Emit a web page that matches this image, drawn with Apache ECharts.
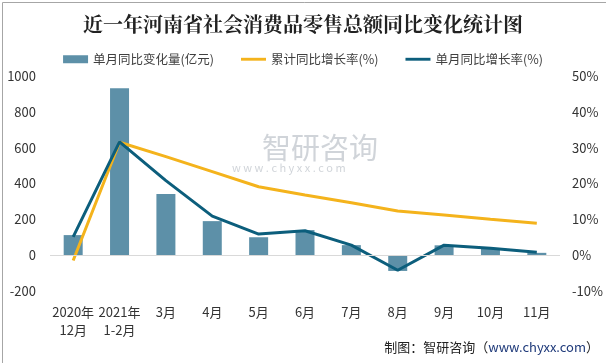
<!DOCTYPE html>
<html><head><meta charset="utf-8">
<script src="https://cdn.jsdelivr.net/npm/echarts@6/dist/echarts.min.js"></script>
<style>html,body{margin:0;padding:0;background:#fff}#c{width:606px;height:363px}</style>
</head><body><div id="c"></div>
<script>
const categories = ['2020年\n12月','2021年\n1-2月','3月','4月','5月','6月','7月','8月','9月','10月','11月'];
const monthlyChange = [112, 931, 341, 190, 100, 140, 56, -88, 55, 39, 13];
const cumulativeRate = [-1.5, 31.5, 27.5, 23.3, 19.1, 16.8, 14.6, 12.3, 11.2, 10.0, 8.9];
const monthlyRate = [5.1, 31.6, 20.8, 10.9, 5.9, 6.8, 2.8, -4.2, 2.8, 1.9, 0.8];
const leftTicks = {min: -200, max: 1000, interval: 200};
const rightTicks = {min: -10, max: 50, interval: 10};
const seriesNames = ['单月同比变化量(亿元)', '累计同比增长率(%)', '单月同比增长率(%)'];

const FONT = '"Noto Sans CJK SC", "Microsoft YaHei", sans-serif';
const LINE_ICON = 'path://M0,0L26,0L26,3L0,3Z';
const chart = echarts.init(document.getElementById('c'), null, {renderer: 'canvas'});
chart.setOption({
  animation: false,
  backgroundColor: '#fff',
  textStyle: {fontFamily: FONT},
  title: {
    text: '近一年河南省社会消费品零售总额同比变化统计图',
    left: 'center', top: 9,
    textStyle: {fontFamily: '"Noto Serif CJK SC","Noto Sans CJK SC", serif', fontWeight: 'bold', fontSize: 20, color: '#222'}
  },
  legend: {
    top: 48, left: 'center',
    itemWidth: 25, itemHeight: 8, itemGap: 27,
    textStyle: {fontSize: 12.5, color: '#404040', fontFamily: FONT},
    data: [
      {name: seriesNames[0], icon: 'rect'},
      {name: seriesNames[1], icon: LINE_ICON},
      {name: seriesNames[2], icon: LINE_ICON}
    ]
  },
  grid: {left: 50, right: 46, top: 76, bottom: 72, containLabel: false},
  xAxis: {
    type: 'category', data: categories,
    axisLine: {show: false, onZero: false}, axisTick: {show: false},
    axisLabel: {fontSize: 13, color: '#333', margin: 12, lineHeight: 18, interval: 0, fontFamily: FONT}
  },
  yAxis: [
    {type: 'value', min: leftTicks.min, max: leftTicks.max, interval: leftTicks.interval,
     splitLine: {show: false}, axisLine: {show: false}, axisTick: {show: false},
     axisLabel: {fontSize: 13, color: '#333', margin: 14, fontFamily: FONT, formatter: v => String(v)}},
    {type: 'value', min: rightTicks.min, max: rightTicks.max, interval: rightTicks.interval,
     splitLine: {show: false}, axisLine: {show: false}, axisTick: {show: false},
     axisLabel: {fontSize: 13, color: '#333', margin: 12, formatter: '{value}%', fontFamily: FONT}}
  ],
  series: [
    {name: seriesNames[0], type: 'bar', data: monthlyChange, barWidth: 19,
     itemStyle: {color: '#5D90A8'},
     markLine: {silent: true, symbol: 'none', label: {show: false},
       lineStyle: {color: '#d9d9d9', width: 1, type: 'solid'}, data: [{yAxis: 0}]}},
    {name: seriesNames[1], type: 'line', yAxisIndex: 1, data: cumulativeRate,
     symbol: 'none', lineStyle: {color: '#F4B31C', width: 3}, itemStyle: {color: '#F4B31C'}},
    {name: seriesNames[2], type: 'line', yAxisIndex: 1, data: monthlyRate,
     symbol: 'none', lineStyle: {color: '#0C5E7C', width: 3}, itemStyle: {color: '#0C5E7C'}}
  ],
  graphic: [
    {type: 'rect', left: 0, top: 0, z: 100, silent: true,
     shape: {x: 0.5, y: 0.5, width: 605, height: 362},
     style: {fill: 'none', stroke: '#a6a6a6', lineWidth: 1}},
    {type: 'text', left: 262, top: 133, z: 1, silent: true,
     style: {text: '智研咨询', fontSize: 29, fill: 'rgba(170,176,186,0.55)', fontFamily: FONT}},
    {type: 'text', left: 232, top: 162, z: 1, silent: true,
     style: {text: 'w w w . c h y x x . c o m', fontSize: 11, fill: 'rgba(170,176,186,0.55)', fontFamily: FONT}},
    {type: 'text', right: 7, top: 341, z: 10, silent: true,
     style: {text: '{a|制图：智研咨询（}{b|www.chyxx.com}{a|）}',
       rich: {a: {fontSize: 13, fill: '#222', fontFamily: FONT}, b: {fontSize: 13, fill: '#1F3A7A', fontFamily: FONT}}}}
  ]
});
</script></body></html>
